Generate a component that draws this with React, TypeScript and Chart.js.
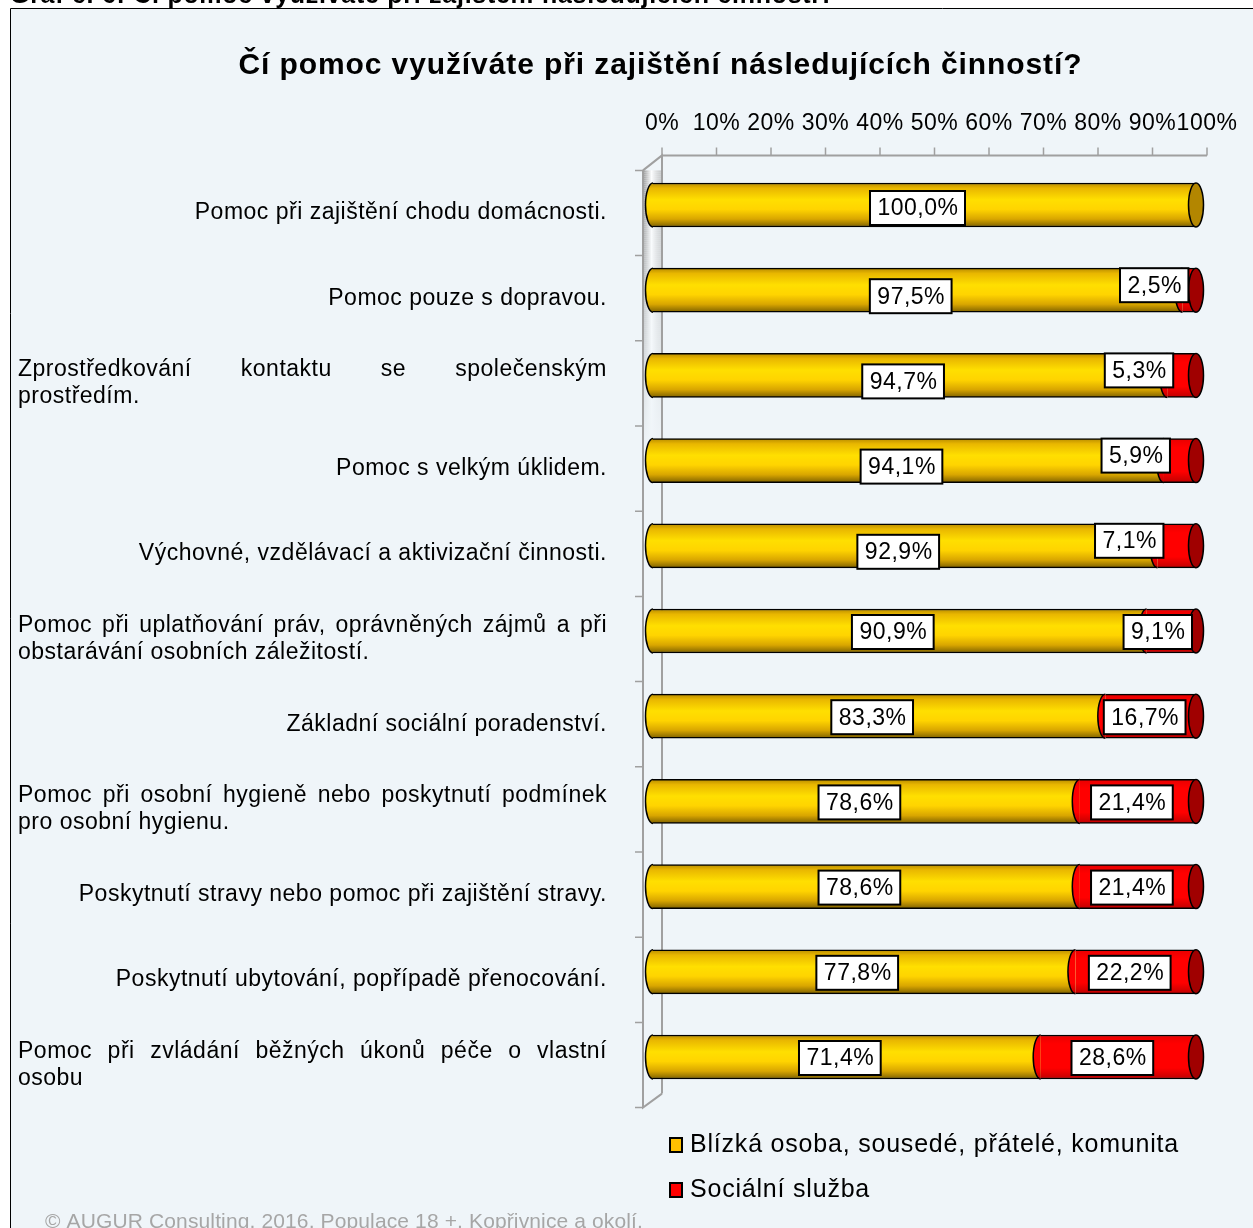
import React, { useEffect, useRef } from "react";
import { Chart, registerables } from "chart.js";

Chart.register(...registerables);

const captionText = "Graf č. 6: Čí pomoc využíváte při zajištění následujících činností?";
const titleText = "Čí pomoc využíváte při zajištění následujících činností?";
const footerText = "© AUGUR Consulting, 2016, Populace 18 +, Kopřivnice a okolí.";

const categories: string[][] = [
  ["Pomoc při zajištění chodu domácnosti."],
  ["Pomoc pouze s dopravou."],
  ["Zprostředkování kontaktu se společenským", "prostředím."],
  ["Pomoc s velkým úklidem."],
  ["Výchovné, vzdělávací a aktivizační činnosti."],
  ["Pomoc při uplatňování práv, oprávněných zájmů a při", "obstarávání osobních záležitostí."],
  ["Základní sociální poradenství."],
  ["Pomoc při osobní hygieně nebo poskytnutí podmínek", "pro osobní hygienu."],
  ["Poskytnutí stravy nebo pomoc při zajištění stravy."],
  ["Poskytnutí ubytování, popřípadě přenocování."],
  ["Pomoc při zvládání běžných úkonů péče o vlastní", "osobu"],
];

const seriesNames = ["Blízká osoba, sousedé, přátelé, komunita", "Sociální služba"];
const closePerson = [100, 97.5, 94.7, 94.1, 92.9, 90.9, 83.3, 78.6, 78.6, 77.8, 71.4];
const socialService = [0, 2.5, 5.3, 5.9, 7.1, 9.1, 16.7, 21.4, 21.4, 22.2, 28.6];
const tickValues = [0, 10, 20, 30, 40, 50, 60, 70, 80, 90, 100];
const tickLabels = ["0%", "10%", "20%", "30%", "40%", "50%", "60%", "70%", "80%", "90%", "100%"];

const W = 1253;
const H = 1228;
const FONT = "Arial, 'Liberation Sans', sans-serif";
const BAR_H = 44;
const CAP_RX = 7.5;
const TXT = `23px ${FONT}`;
const TXT_LS = "0.5px";

function yellowGradient(ctx: CanvasRenderingContext2D, yc: number, h: number) {
  const g = ctx.createLinearGradient(0, yc - h / 2, 0, yc + h / 2);
  g.addColorStop(0, "#B88C00");
  g.addColorStop(0.12, "#E9B700");
  g.addColorStop(0.38, "#FFDF00");
  g.addColorStop(0.6, "#FFD400");
  g.addColorStop(0.82, "#D9A600");
  g.addColorStop(1, "#7E6100");
  return g;
}

function redGradient(ctx: CanvasRenderingContext2D, yc: number, h: number) {
  const g = ctx.createLinearGradient(0, yc - h / 2, 0, yc + h / 2);
  g.addColorStop(0, "#E80000");
  g.addColorStop(0.2, "#FF0000");
  g.addColorStop(0.75, "#FF0000");
  g.addColorStop(1, "#C00000");
  return g;
}

function fmt(v: number) {
  return v.toFixed(1).replace(".", ",") + "%";
}

function drawJustified(ctx: CanvasRenderingContext2D, line: string, left: number, right: number, y: number) {
  const words = line.split(" ");
  const widths = words.map((w) => ctx.measureText(w).width);
  const total = widths.reduce((a, b) => a + b, 0);
  const gap = words.length > 1 ? (right - left - total) / (words.length - 1) : 0;
  let x = left;
  ctx.textAlign = "left";
  words.forEach((w, i) => {
    ctx.fillText(w, x, y);
    x += widths[i] + gap;
  });
}

const backgroundPlugin = {
  id: "frameBg",
  beforeDraw(chart: any) {
    const ctx: CanvasRenderingContext2D = chart.ctx;
    ctx.save();
    ctx.fillStyle = "#FFFFFF";
    ctx.fillRect(0, 0, W, H);
    ctx.fillStyle = "#EFF5F9";
    ctx.fillRect(10, 8, W - 10, H - 8);
    ctx.strokeStyle = "#000000";
    ctx.lineWidth = 1;
    ctx.beginPath();
    ctx.moveTo(10.5, H);
    ctx.lineTo(10.5, 8.5);
    ctx.lineTo(W, 8.5);
    ctx.stroke();

    // cut-off caption above the frame
    ctx.fillStyle = "#000000";
    ctx.font = `bold 25px ${FONT}`;
    ctx.textAlign = "left";
    ctx.textBaseline = "alphabetic";
    const natC = ctx.measureText(captionText).width;
    (ctx as any).letterSpacing = (825 - natC) / captionText.length + "px";
    ctx.fillText(captionText, 10, 3);
    (ctx as any).letterSpacing = "0px";

    // title
    ctx.font = `bold 30px ${FONT}`;
    ctx.textBaseline = "middle";
    const nat = ctx.measureText(titleText).width;
    const ls = (844 - nat) / titleText.length;
    (ctx as any).letterSpacing = ls + "px";
    ctx.textAlign = "center";
    ctx.fillText(titleText, 660 + ls / 2, 66);
    (ctx as any).letterSpacing = "0px";

    // footer
    ctx.fillStyle = "#A6A6A6";
    ctx.font = `21px ${FONT}`;
    ctx.textAlign = "left";
    ctx.textBaseline = "alphabetic";
    const natF = ctx.measureText(footerText).width;
    (ctx as any).letterSpacing = Math.max(0, (598 - natF) / footerText.length) + "px";
    ctx.fillText(footerText, 45, 1228);
    (ctx as any).letterSpacing = "0px";

    // walls / axes
    const xs = chart.scales.x;
    const ys = chart.scales.y;
    const dxBack = 9;
    const x0 = xs.getPixelForValue(0);
    const backX = x0 + dxBack;
    const frontX = backX - 19;
    const firstB = ys.getPixelForValue(-0.5);
    const lastB = ys.getPixelForValue(categories.length - 0.5);
    const backTop = firstB - 7;
    const backBottom = lastB - 6;
    const frontTop = firstB + 8;
    const frontBottom = lastB + 8;

    // wall shading
    for (let yy = frontTop; yy < 450; yy += 2) {
      const a = Math.max(0, 1 - (yy - frontTop) / 280);
      const g = ctx.createLinearGradient(frontX, 0, backX, 0);
      g.addColorStop(0, "rgba(140,140,140," + (0.9 * a) + ")");
      g.addColorStop(0.45, "rgba(255,255,255," + (0.9 * a) + ")");
      g.addColorStop(1, "rgba(170,170,170," + (0.6 * a) + ")");
      ctx.fillStyle = g;
      ctx.fillRect(frontX, yy, backX - frontX, 2);
    }

    ctx.strokeStyle = "#A0A0A0";
    ctx.lineWidth = 2;
    ctx.beginPath();
    ctx.moveTo(frontX, frontTop);
    ctx.lineTo(frontX, frontBottom);
    ctx.lineTo(backX, backBottom);
    ctx.moveTo(frontX, frontTop);
    ctx.lineTo(backX, backTop);
    ctx.lineTo(backX, backBottom);
    ctx.stroke();

    // left ticks
    ctx.lineWidth = 1.5;
    ctx.beginPath();
    for (let i = 0; i <= categories.length; i++) {
      const yb = ys.getPixelForValue(i - 0.5) + 8;
      ctx.moveTo(frontX - 8, yb);
      ctx.lineTo(frontX, yb);
    }
    ctx.stroke();

    // top axis line and ticks
    const xEnd = xs.getPixelForValue(100) + 11;
    ctx.lineWidth = 2;
    ctx.beginPath();
    ctx.moveTo(backX, backTop);
    ctx.lineTo(xEnd, backTop);
    ctx.stroke();
    ctx.lineWidth = 1.5;
    ctx.beginPath();
    tickValues.forEach((v) => {
      const tx = xs.getPixelForValue(v) + dxBack + (v / 100) * 2;
      ctx.moveTo(tx, backTop);
      ctx.lineTo(tx, backTop - 8);
    });
    ctx.stroke();

    ctx.fillStyle = "#000000";
    ctx.font = TXT;
    (ctx as any).letterSpacing = TXT_LS;
    ctx.textAlign = "center";
    ctx.textBaseline = "middle";
    tickValues.forEach((v, i) => {
      const tx = xs.getPixelForValue(v) + dxBack + (v / 100) * 2;
      ctx.fillText(tickLabels[i], tx, 124);
    });

    // category labels
    const left = 18;
    const right = 607;
    categories.forEach((lines, i) => {
      const yc = ys.getPixelForValue(i) + 8;
      if (lines.length === 1) {
        ctx.textAlign = "right";
        ctx.fillText(lines[0], right, yc);
      } else {
        const lh = 27;
        lines.forEach((ln, k) => {
          const ly = yc - ((lines.length - 1) * lh) / 2 + k * lh;
          if (k < lines.length - 1) {
            drawJustified(ctx, ln, left, right, ly);
          } else {
            ctx.textAlign = "left";
            ctx.fillText(ln, left, ly);
          }
        });
      }
    });
    (ctx as any).letterSpacing = "0px";

    // legend
    const legY = [1145, 1190];
    const legColors = ["#FFC000", "#FF0000"];
    ctx.font = `25px ${FONT}`;
    const natL = ctx.measureText(seriesNames[0]).width;
    const lsL = (489 - natL) / seriesNames[0].length;
    seriesNames.forEach((name, i) => {
      ctx.fillStyle = legColors[i];
      ctx.fillRect(670, legY[i] - 7, 12, 14);
      ctx.strokeStyle = "#000000";
      ctx.lineWidth = 2;
      ctx.strokeRect(670, legY[i] - 7, 12, 14);
      ctx.fillStyle = "#000000";
      (ctx as any).letterSpacing = lsL + "px";
      ctx.textAlign = "left";
      ctx.textBaseline = "middle";
      ctx.fillText(name, 690, legY[i]);
    });
    (ctx as any).letterSpacing = "0px";
    ctx.restore();
  },
};

const capsPlugin = {
  id: "caps",
  afterDatasetsDraw(chart: any) {
    const ctx: CanvasRenderingContext2D = chart.ctx;
    const m0 = chart.getDatasetMeta(0);
    const m1 = chart.getDatasetMeta(1);
    ctx.save();
    ctx.strokeStyle = "#000000";
    ctx.lineWidth = 1.5;
    const boxes: any[] = [];
    for (let i = 0; i < categories.length; i++) {
      const e0 = m0.data[i].getProps(["x", "y", "base", "height"], true);
      const e1 = m1.data[i].getProps(["x", "y", "base", "height"], true);
      const ry = e0.height / 2;
      // left cap of yellow
      ctx.fillStyle = yellowGradient(ctx, e0.y, e0.height);
      ctx.beginPath();
      ctx.ellipse(e0.base, e0.y, CAP_RX, ry, 0, Math.PI / 2, (3 * Math.PI) / 2);
      ctx.closePath();
      ctx.fill();
      ctx.beginPath();
      ctx.ellipse(e0.base, e0.y, CAP_RX, ry, 0, Math.PI / 2, (3 * Math.PI) / 2);
      ctx.stroke();
      const hasRed = socialService[i] > 0;
      if (hasRed) {
        ctx.fillStyle = redGradient(ctx, e1.y, e1.height);
        ctx.beginPath();
        ctx.ellipse(e1.base, e1.y, CAP_RX, ry, 0, Math.PI / 2, (3 * Math.PI) / 2);
        ctx.closePath();
        ctx.fill();
        ctx.beginPath();
        ctx.ellipse(e1.base, e1.y, CAP_RX, ry, 0, Math.PI / 2, (3 * Math.PI) / 2);
        ctx.stroke();
        ctx.fillStyle = "#A00000";
        ctx.beginPath();
        ctx.ellipse(e1.x, e1.y, CAP_RX, ry, 0, 0, Math.PI * 2);
        ctx.fill();
        ctx.stroke();
      } else {
        ctx.fillStyle = "#B38600";
        ctx.beginPath();
        ctx.ellipse(e0.x, e0.y, CAP_RX, ry, 0, 0, Math.PI * 2);
        ctx.fill();
        ctx.stroke();
      }
      boxes.push({ e0, e1, hasRed, i });
    }

    // data labels
    ctx.font = TXT;
    (ctx as any).letterSpacing = TXT_LS;
    ctx.textAlign = "center";
    ctx.textBaseline = "middle";
    const drawBox = (txt: string, cx: number, cy: number) => {
      const tw = ctx.measureText(txt).width;
      const bw = tw + 14;
      const bh = 34;
      ctx.fillStyle = "#FFFFFF";
      ctx.fillRect(cx - bw / 2, cy - bh / 2, bw, bh);
      ctx.lineWidth = 2;
      ctx.strokeStyle = "#000000";
      ctx.strokeRect(cx - bw / 2, cy - bh / 2, bw, bh);
      ctx.fillStyle = "#000000";
      ctx.fillText(txt, cx + 0.5, cy + 1);
      return bw;
    };
    const rightLimit = chart.scales.x.getPixelForValue(100) - 4;
    boxes.forEach(({ e0, e1, hasRed, i }) => {
      let yShift = 1;
      let redTxt = "";
      let redCx = 0;
      let redShift = 1;
      if (hasRed) {
        redTxt = fmt(socialService[i]);
        const tw = ctx.measureText(redTxt).width + 14;
        const segW = e1.x - e1.base;
        if (segW < 40) {
          redCx = e1.base + 6 - tw / 2;
          yShift = 6;
          redShift = -5;
        } else {
          redCx = (e1.base + e1.x) / 2 - 6;
          if (redCx + tw / 2 > rightLimit) redCx = rightLimit - tw / 2;
        }
      } else {
        yShift = 3;
      }
      drawBox(fmt(closePerson[i]), (e0.base + e0.x) / 2 - 7, e0.y + yShift);
      if (hasRed) drawBox(redTxt, redCx, e1.y + redShift);
    });
    (ctx as any).letterSpacing = "0px";
    ctx.restore();
  },
};

function barGradient(kind: "y" | "r") {
  return (c: any) => {
    const ch = c.chart;
    const ys = ch.scales && ch.scales.y;
    const fallback = kind === "y" ? "#FFD200" : "#FF0000";
    if (!ys || typeof c.dataIndex !== "number") return fallback;
    const yc = ys.getPixelForValue(c.dataIndex);
    if (!Number.isFinite(yc)) return fallback;
    return kind === "y" ? yellowGradient(ch.ctx, yc, BAR_H) : redGradient(ch.ctx, yc, BAR_H);
  };
}

export default function App() {
  const ref = useRef<HTMLCanvasElement | null>(null);
  useEffect(() => {
    if (!ref.current) return;
    const chart = new Chart(ref.current, {
      type: "bar",
      data: {
        labels: categories.map((c) => c.join(" ")),
        datasets: [
          {
            label: seriesNames[0],
            data: closePerson,
            backgroundColor: barGradient("y"),
            borderColor: "#000000",
            borderWidth: { top: 1.5, bottom: 1.5, left: 0, right: 0 },
            borderSkipped: false,
            barThickness: BAR_H,
          },
          {
            label: seriesNames[1],
            data: socialService,
            backgroundColor: barGradient("r"),
            borderColor: "#000000",
            borderWidth: { top: 1.5, bottom: 1.5, left: 0, right: 0 },
            borderSkipped: false,
            barThickness: BAR_H,
          },
        ],
      },
      options: {
        indexAxis: "y",
        responsive: false,
        animation: false,
        devicePixelRatio: 1,
        layout: { padding: { left: 653, right: W - 1196, top: 162.4, bottom: H - 1099.6 } },
        plugins: {
          legend: { display: false },
          title: { display: false },
          tooltip: { enabled: false },
        },
        scales: {
          x: { stacked: true, min: 0, max: 100, display: false },
          y: { stacked: true, display: false, offset: true },
        },
      } as any,
      plugins: [backgroundPlugin, capsPlugin],
    });
    return () => chart.destroy();
  }, []);
  return (
    <div style={{ position: "absolute", left: 0, top: 0, width: W, height: H }}>
      <canvas ref={ref} width={W} height={H} style={{ display: "block", width: W, height: H }} />
    </div>
  );
}
